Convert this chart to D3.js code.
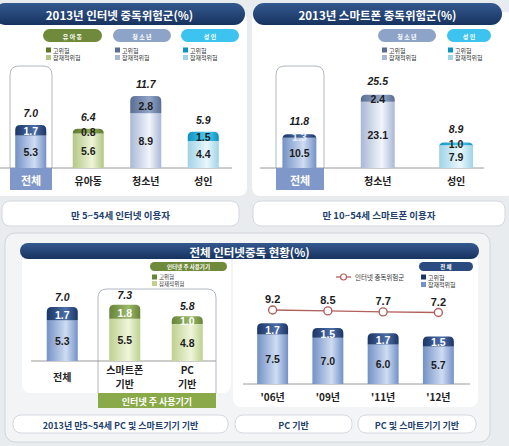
<!DOCTYPE html>
<html>
<head>
<meta charset="utf-8">
<script src="https://cdn.jsdelivr.net/npm/d3@7"></script>
<style>
body{margin:0;background:#e9ecef;}
svg{display:block;font-family:"Noto Sans CJK KR","Noto Sans",sans-serif;}
.num{font-family:"Liberation Sans",Arial,sans-serif;}
</style>
</head>
<body>
<svg id="svg" width="509" height="446"></svg>
<script>
// 2013 인터넷 중독위험군
let netCats=["전체","유아동","청소년","성인"];
let netHigh=[1.7,0.8,2.8,1.5];
let netLatent=[5.3,5.6,8.9,4.4];
let netTotal=[7.0,6.4,11.7,5.9];
// 2013 스마트폰 중독위험군
let phoneCats=["전체","청소년","성인"];
let phoneHigh=[1.3,2.4,1.0];
let phoneLatent=[10.5,23.1,7.9];
let phoneTotal=[11.8,25.5,8.9];
// 인터넷 주 사용기기
let devCats=["전체","스마트폰|기반","PC|기반"];
let devHigh=[1.7,1.8,1.0];
let devLatent=[5.3,5.5,4.8];
let devTotal=[7.0,7.3,5.8];
// 연도별
let years=["'06년","'09년","'11년","'12년"];
let yearHigh=[1.7,1.5,1.7,1.5];
let yearLatent=[7.5,7.0,6.0,5.7];
let yearRisk=[9.2,8.5,7.7,7.2];

const svg=d3.select("#svg");
const defs=svg.append("defs");

// colour sets: [hiEdge, hiMid, loEdge, loMid, pill]
const pal={
    navy:["#1b3566","#4d6ea8","#7391c6","#cfdcf2","#2a4a80"],
    olive:["#5c762a","#93ad5c","#b3c785","#eef4d8","#6f8a3a"],
    slate:["#5a6e94","#93a6c8","#a9b8d6","#f2f5fb","#8ea3c8"],
    cyan:["#0d93c2","#52cbee","#9fd3e7","#eaf7fc","#3cc3ef"],
    green:["#67843a","#9cb86a","#bed18f","#eff5dc","#8aaa4a"]
};
Object.keys(pal).forEach(function(k){
    ["hi","lo"].forEach(function(part,i){
        let g=defs.append("linearGradient").attr("id",part+"-"+k).attr("x1","0").attr("x2","1").attr("y1","0").attr("y2","0");
        g.append("stop").attr("offset","0%").attr("stop-color",pal[k][i*2]);
        g.append("stop").attr("offset","62%").attr("stop-color",pal[k][i*2+1]);
        g.append("stop").attr("offset","100%").attr("stop-color",pal[k][i*2]);
    });
});
let hg=defs.append("linearGradient").attr("id","head").attr("x1","0").attr("x2","0").attr("y1","0").attr("y2","1");
hg.append("stop").attr("offset","0%").attr("stop-color","#34598f");
hg.append("stop").attr("offset","100%").attr("stop-color","#17335f");

const roundedTop=function(x,y,w,h,r)
{
    return "M"+x+","+(y+h)+"V"+(y+r)+"Q"+x+","+y+" "+(x+r)+","+y+"H"+(x+w-r)+"Q"+(x+w)+","+y+" "+(x+w)+","+(y+r)+"V"+(y+h)+"Z";
}

const header=function(x,y,w,h,txt,size)
{
    svg.append("rect").attr("x",x).attr("y",y).attr("width",w).attr("height",h).attr("rx",h/2).attr("fill","url(#head)");
    svg.append("text").attr("x",x+w/2).attr("y",y+h/2+1).attr("text-anchor","middle").attr("dominant-baseline","central")
        .style("font-size",size).style("font-weight",700).style("fill","#fff").text(txt);
}
const caption=function(x,y,w,h,txt,size)
{
    svg.append("rect").attr("x",x).attr("y",y).attr("width",w).attr("height",h).attr("rx",8).attr("fill","#fff").attr("stroke","#d3d8df");
    svg.append("text").attr("x",x+w/2).attr("y",y+h/2+1).attr("text-anchor","middle").attr("dominant-baseline","central")
        .style("font-size",size).style("font-weight",700).style("fill","#233f6c").text(txt);
}
const pill=function(x,y,w,h,k,txt,size)
{
    svg.append("rect").attr("x",x).attr("y",y).attr("width",w).attr("height",h).attr("rx",h/2).attr("fill",pal[k][4]);
    svg.append("text").attr("x",x+w/2).attr("y",y+h/2+0.5).attr("text-anchor","middle").attr("dominant-baseline","central")
        .style("font-size",size).style("font-weight",700).style("fill","#fff").text(txt);
}
const legendPair=function(x,y,k,gap,fs)
{
    svg.append("rect").attr("x",x).attr("y",y-2.5).attr("width",5).attr("height",5).attr("fill",pal[k][0]);
    svg.append("rect").attr("x",x).attr("y",y+gap-2.5).attr("width",5).attr("height",5).attr("fill",pal[k][2]);
    svg.append("text").attr("x",x+7).attr("y",y).attr("dominant-baseline","central").style("font-size",fs).style("fill","#333").text("고위험");
    svg.append("text").attr("x",x+7).attr("y",y+gap).attr("dominant-baseline","central").style("font-size",fs).style("fill","#333").text("잠재적위험");
}

// draws stacked cylinders
const bars=function(cats,high,latent,total,x,y,keys,hiText,totalItalic,totalOff)
{
    let bw=x.bandwidth();
    for(let i=0;i<cats.length;i++)
    {
        let bx=x(cats[i]);
        let k=keys[i];
        svg.append("rect").attr("x",bx).attr("y",y(latent[i])).attr("width",bw).attr("height",y(0)-y(latent[i])).attr("fill","url(#lo-"+k+")");
        let top=y(latent[i]+high[i]);
        svg.append("path").attr("d",roundedTop(bx,top,bw,y(latent[i])-top,5)).attr("fill","url(#hi-"+k+")");
        let ly=(y(0)+y(latent[i]))/2;
        let hy=Math.min((top+y(latent[i]))/2+1,ly-12.5);
        svg.append("text").attr("class","num").attr("x",bx+bw/2).attr("y",ly).attr("text-anchor","middle").attr("dominant-baseline","central")
            .style("font-size",10.5).style("font-weight",700).style("fill","#1c1c1c").text(latent[i].toFixed(1));
        svg.append("text").attr("class","num").attr("x",bx+bw/2).attr("y",hy).attr("text-anchor","middle").attr("dominant-baseline","central")
            .style("font-size",10.5).style("font-weight",700).style("fill",hiText[i]).text(high[i].toFixed(1));
        if(total)
        {
            svg.append("text").attr("class","num").attr("x",bx+bw/2).attr("y",top-totalOff).attr("text-anchor","middle").attr("dominant-baseline","central")
                .style("font-size",10.5).style("font-weight",700).style("font-style",totalItalic?"italic":"normal").style("fill","#1c1c1c").text(total[i].toFixed(1));
        }
    }
}
const catLabels=function(cats,x,ly,skipFirst)
{
    for(let i=skipFirst?1:0;i<cats.length;i++)
    {
        let parts=cats[i].split("|");
        let cx=x(cats[i])+x.bandwidth()/2;
        let y0=ly-(parts.length-1)*7;
        parts.forEach(function(p,j){
            svg.append("text").attr("x",cx).attr("y",y0+j*14).attr("text-anchor","middle").attr("dominant-baseline","central")
                .style("font-size",10).style("font-weight",700).style("fill","#222").text(p);
        });
    }
}
const highlight=function(x0,x1,y0,y1)
{
    svg.append("path").attr("d","M"+x0+","+y1+"V"+(y0+9)+"Q"+x0+","+y0+" "+(x0+9)+","+y0+"H"+(x1-9)+"Q"+x1+","+y0+" "+x1+","+(y0+9)+"V"+y1)
        .attr("fill","#fff").attr("stroke","#b0b8c4").attr("stroke-width",1);
}
const allBox=function(x0,w,y0,h,fill,txt,size)
{
    svg.append("rect").attr("x",x0).attr("y",y0).attr("width",w).attr("height",h).attr("fill",fill);
    svg.append("text").attr("x",x0+w/2).attr("y",y0+h/2+1).attr("text-anchor","middle").attr("dominant-baseline","central")
        .style("font-size",size).style("font-weight",700).style("fill","#fff").text(txt);
}

// ---------- top left: 인터넷 ----------
svg.append("rect").attr("x",-10).attr("y",12).attr("width",257).attr("height",184).attr("rx",8).attr("fill","#fff");
header(-6,3,251,22,"2013년 인터넷 중독위험군(%)",11.5);
pill(43,29,59,13,"olive","유 아 동",6);
pill(113,29,58,13,"slate","청 소 년",6);
pill(181,29,58,13,"cyan","성   인",6);
legendPair(46,50,"olive",7.5,6);
legendPair(115,50,"slate",7.5,6);
legendPair(183,50,"cyan",7.5,6);
let x1=d3.scaleBand().domain(netCats).range([2,232]).paddingInner(0.46).paddingOuter(0.23);
let y1=d3.scaleLinear().domain([0,12]).range([168,94.2]);
highlight(10,52,66,168);
svg.append("line").attr("x1",0).attr("x2",232).attr("y1",168).attr("y2",168).attr("stroke","#9a9a9a");
bars(netCats,netHigh,netLatent,netTotal,x1,y1,["navy","olive","slate","cyan"],["#fff","#1c1c1c","#1c1c1c","#1c1c1c"],true,12);
allBox(10,42,168,22,"#7f98c9","전체",11);
catLabels(netCats,x1,180,true);
caption(2,201,237,25,"만 5~54세 인터넷 이용자",9.5);

// ---------- top right: 스마트폰 ----------
svg.append("rect").attr("x",252).attr("y",12).attr("width",262).attr("height",184).attr("rx",8).attr("fill","#fff");
header(253,3,249,22,"2013년 스마트폰 중독위험군(%)",11.5);
pill(378,29,58,13,"slate","청 소 년",6);
pill(447,29,44,13,"cyan","성   인",6);
legendPair(382,50,"slate",7.5,6);
legendPair(448,50,"cyan",7.5,6);
let x2=d3.scaleBand().domain(phoneCats).range([260.25,495.25]).paddingInner(0.567).paddingOuter(0.283);
let y2=d3.scaleLinear().domain([0,26]).range([168,93.4]);
highlight(276,324,66,168);
svg.append("line").attr("x1",260).attr("x2",484).attr("y1",168).attr("y2",168).attr("stroke","#9a9a9a");
bars(phoneCats,phoneHigh,phoneLatent,phoneTotal,x2,y2,["navy","slate","cyan"],["#e8eef8","#1c1c1c","#1c1c1c"],true,13.5);
allBox(276,48,168,22,"#7f98c9","전체",11);
catLabels(phoneCats,x2,180,true);
caption(253,201,252,25,"만 10~54세 스마트폰 이용자",9.5);

// ---------- bottom: 전체 인터넷중독 현황 ----------
svg.append("rect").attr("x",5).attr("y",233).attr("width",485).attr("height",209).attr("rx",10).attr("fill","#f3f4f6").attr("stroke","#cfd4da");
svg.append("rect").attr("x",22).attr("y",252).attr("width",209).attr("height",141).attr("rx",8).attr("fill","#fff");
svg.append("rect").attr("x",233).attr("y",252).attr("width",245).attr("height",155).attr("rx",8).attr("fill","#fff");
header(20,243,459,16,"전체 인터넷중독 현황(%)",11.5);

// bottom left: 주 사용기기
pill(150,262,77,9,"olive","인터넷 주 사용기기",5.5);
legendPair(152,277,"green",6.5,5.5);
highlight(98,216,289,393);
let x3=d3.scaleBand().domain(devCats).range([31,218.5]).paddingInner(0.504).paddingOuter(0.252);
let y3=d3.scaleLinear().domain([0,8]).range([361,299.4]);
svg.append("line").attr("x1",31).attr("x2",216).attr("y1",361).attr("y2",361).attr("stroke","#9a9a9a");
bars(devCats,devHigh,devLatent,devTotal,x3,y3,["navy","green","green"],["#fff","#fff","#fff"],true,10);
catLabels(devCats,x3,376,false);
allBox(98,118,393,15,"#8aaa4a","인터넷 주 사용기기",9);
caption(13,415,215,18,"2013년 만5~54세 PC 및 스마트기기 기반",9);

// bottom right: 연도별
pill(419,262,54,9,"navy","전   체",5.5);
legendPair(421,277,"navy",7.5,6);
svg.append("line").attr("x1",336).attr("x2",351).attr("y1",277).attr("y2",277).attr("stroke","#b0605c").attr("stroke-width",1.3);
svg.append("circle").attr("cx",343.5).attr("cy",277).attr("r",3).attr("fill","#fff").attr("stroke","#b0605c").attr("stroke-width",1.2);
svg.append("text").attr("x",355).attr("y",277).attr("dominant-baseline","central").style("font-size",6.5).style("fill","#333").text("인터넷 중독위험군");
let x4=d3.scaleBand().domain(years).range([245,466]).paddingInner(0.44).paddingOuter(0.22);
let y4=d3.scaleLinear().domain([0,10]).range([384,318]);
let yl=d3.scaleLinear().domain([7.2,9.2]).range([312.5,310]);
svg.append("line").attr("x1",243).attr("x2",470).attr("y1",384).attr("y2",384).attr("stroke","#9a9a9a");
bars(years,yearHigh,yearLatent,null,x4,y4,["navy","navy","navy","navy"],["#fff","#fff","#fff","#fff"],false,0);
let line=d3.line().x(function(d,i){return x4(years[i])+x4.bandwidth()/2;}).y(function(d){return yl(d);});
svg.append("path").attr("d",line(yearRisk)).attr("fill","none").attr("stroke","#b0605c").attr("stroke-width",1.5);
for(let i=0;i<years.length;i++)
{
    let cx=x4(years[i])+x4.bandwidth()/2;
    svg.append("circle").attr("cx",cx).attr("cy",yl(yearRisk[i])).attr("r",4).attr("fill","#fff").attr("stroke","#b0605c").attr("stroke-width",1.4);
    svg.append("text").attr("class","num").attr("x",cx).attr("y",yl(yearRisk[i])-11).attr("text-anchor","middle").attr("dominant-baseline","central")
        .style("font-size",11).style("font-weight",700).style("fill","#1c1c1c").text(yearRisk[i].toFixed(1));
}
catLabels(years,x4,396,false);
caption(235,415,117,18,"PC 기반",9);
caption(358,415,118,18,"PC 및 스마트기기 기반",9);
</script>
</body>
</html>
